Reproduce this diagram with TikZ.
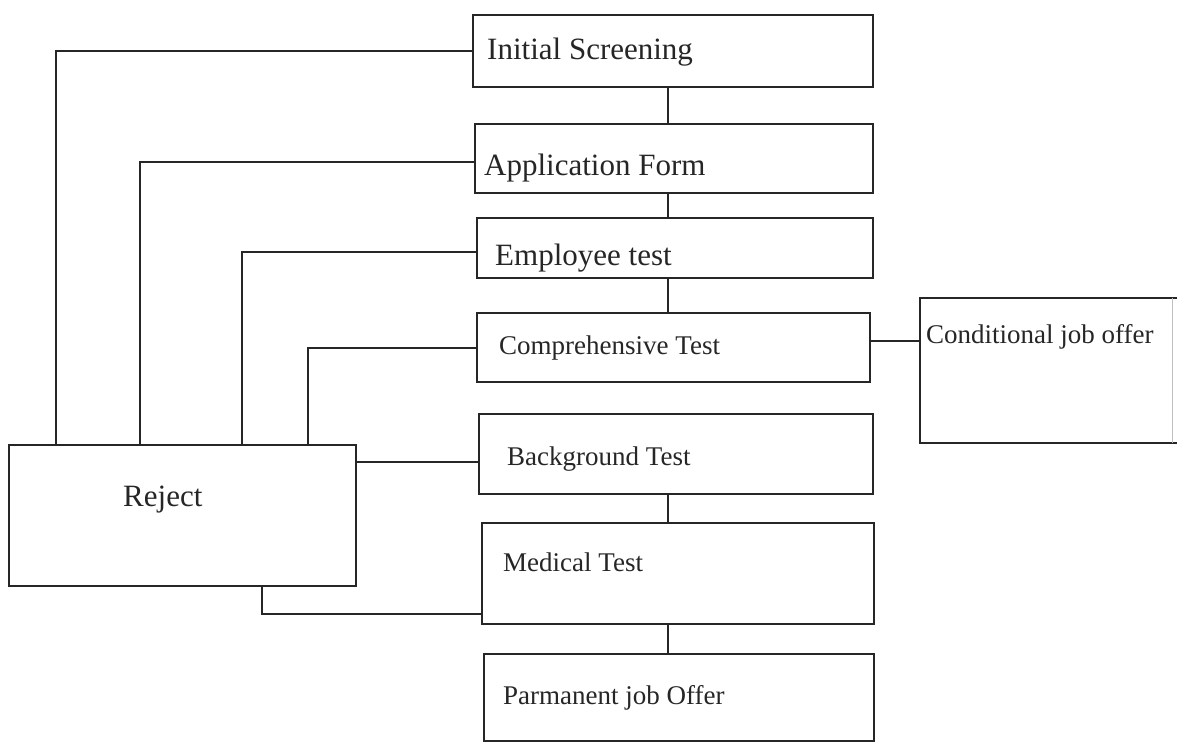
\documentclass[tikz,border=0pt]{standalone}
\usepackage{fontspec}
\setmainfont{Liberation Serif}
\begin{document}
\begin{tikzpicture}[x=1pt,y=-1pt,
  box/.style={draw=black!85, line width=1.8pt, inner sep=0pt, outer sep=0pt, anchor=north west, fill=none},
  big/.style={anchor=base west, inner sep=0pt, text=black!85, font=\fontsize{31}{36}\selectfont},
  small/.style={anchor=base west, inner sep=0pt, text=black!85, font=\fontsize{27}{32}\selectfont},
  conn/.style={draw=black!85, line width=1.8pt}]
\fill[white] (0,0) rectangle (1177,741);
\useasboundingbox (0,0) rectangle (1177,741);
\coordinate (spine) at (668,0);
% boxes
\node[box, minimum width=400pt, minimum height=72pt] (is) at (473,15) {};
\node[box, minimum width=398pt, minimum height=69pt] (af) at (475,124) {};
\node[box, minimum width=396pt, minimum height=60pt] (et) at (477,218) {};
\node[box, minimum width=393pt, minimum height=69pt] (ct) at (477,313) {};
\node[box, minimum width=394pt, minimum height=80pt] (bg) at (479,414) {};
\node[box, minimum width=392pt, minimum height=101pt] (med) at (482,523) {};
\node[box, minimum width=390pt, minimum height=87pt] (po) at (484,654) {};
\node[box, minimum width=262pt, minimum height=145pt] (cond) at (920,298) {};
\node[box, minimum width=347pt, minimum height=141pt] (rej) at (9,445) {};
\draw[black!25, line width=0.6pt] (1172,298) -- (1172,443);
% labels
\node[big] (ist) at (487,60) {Initial Screening};
\node[big] (aft) at (484,175) {Application Form};
\node[big] (ett) at (495,265) {Employee test};
\node[small] (ctt) at (499,354) {Comprehensive Test};
\node[small] (bgt) at (507,465) {Background Test};
\node[small] (medt) at (503,571) {Medical Test};
\node[small] (pot) at (503,704) {Parmanent job Offer};
\node[small] (condt) at (926,343) {Conditional job offer};
\node[big] (rejt) at (123,506) {Reject};
% spine connectors
\draw[conn] (is.south -| spine) -- (af.north -| spine);
\draw[conn] (af.south -| spine) -- (et.north -| spine);
\draw[conn] (et.south -| spine) -- (ct.north -| spine);
\draw[conn] (bg.south -| spine) -- (med.north -| spine);
\draw[conn] (med.south -| spine) -- (po.north -| spine);
% to conditional
\draw[conn] ([yshift=6.5pt]ct.east) -- ([yshift=6.5pt]ct.east -| cond.west);
% reject connectors
\draw[conn] (is.west) -| ([xshift=47pt]rej.north west);
\draw[conn] ([yshift=-3.5pt]af.west) -| ([xshift=131pt]rej.north west);
\draw[conn] ([yshift=-4pt]et.west) -| ([xshift=233pt]rej.north west);
\draw[conn] ([yshift=-0.5pt]ct.west) -| ([xshift=299pt]rej.north west);
\draw[conn] ([yshift=-8pt]bg.west) -- ([yshift=-8pt]bg.west -| rej.east);
\draw[conn] ([xshift=253pt]rej.south west) |- ([yshift=-40.5pt]med.west);
\end{tikzpicture}
\end{document}
